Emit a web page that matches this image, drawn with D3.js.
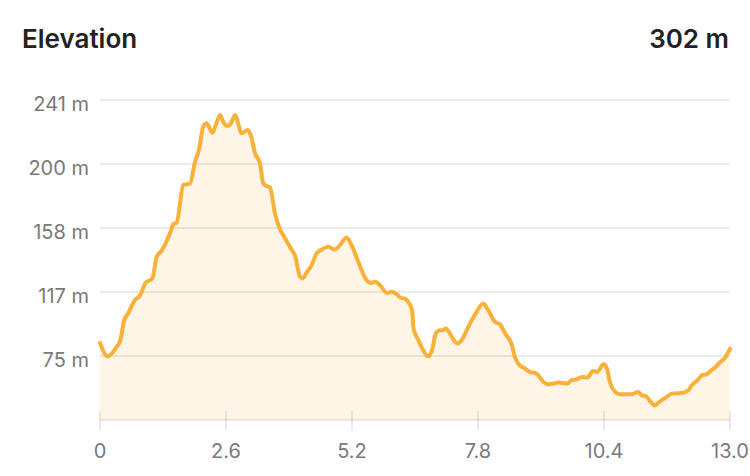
<!DOCTYPE html>
<html>
<head>
<meta charset="utf-8">
<script src="https://cdn.jsdelivr.net/npm/d3@7"></script>
<style>
  html, body { margin: 0; padding: 0; background: #fff; }
  svg { display: block; font-family: Inter, "Noto Sans", sans-serif; }
</style>
</head>
<body>
<svg id="chart" width="750" height="476"></svg>
<script>
const title = "Elevation";
const totalLabel = "302 m";

const distanceKm = [0.00,0.16,0.35,0.41,0.50,0.58,0.72,0.83,0.94,1.08,1.17,1.27,1.48,1.51,1.58,1.72,1.86,1.96,2.04,2.13,2.20,2.32,2.39,2.48,2.54,2.64,2.70,2.79,2.85,2.92,3.05,3.12,3.20,3.30,3.37,3.44,3.51,3.61,3.68,3.80,3.96,4.02,4.13,4.18,4.27,4.35,4.47,4.58,4.71,4.84,4.95,5.09,5.19,5.33,5.50,5.59,5.68,5.78,5.92,6.02,6.12,6.21,6.29,6.36,6.44,6.47,6.57,6.67,6.77,6.85,6.93,7.02,7.08,7.13,7.22,7.31,7.38,7.46,7.60,7.77,7.91,8.01,8.15,8.25,8.36,8.50,8.56,8.68,8.77,8.87,8.98,9.04,9.15,9.25,9.35,9.46,9.56,9.64,9.73,9.84,9.94,10.06,10.17,10.26,10.39,10.46,10.52,10.63,10.72,10.80,10.97,11.11,11.18,11.27,11.35,11.45,11.56,11.66,11.80,12.00,12.14,12.21,12.33,12.42,12.52,12.62,12.69,12.78,12.90,13.00];

const elevationM = [83.5,74.8,81.3,84.1,98.2,102.6,111.2,114.4,122.4,125.3,139.3,143.2,157.7,160.5,161.4,185.8,186.9,200.9,208.5,223.7,225.9,219.8,224.8,231.3,226.9,224.1,225.9,231.3,225.9,219.4,221.5,217.2,206.4,199.9,186.9,185.2,184.3,167.5,159.9,152.3,143.6,140.4,126.3,125.3,129.5,132.8,141.5,144.1,145.8,144.1,146.9,151.9,146.9,136.0,124.2,122.4,123.1,120.9,115.9,116.6,115.1,112.7,112.3,110.1,104.7,92.8,85.2,78.7,74.8,78.7,89.6,91.7,91.7,92.8,89.6,84.8,83.1,85.2,93.9,103.6,109.0,104.7,97.1,95.6,89.6,82.0,74.4,68.4,66.9,64.7,64.0,62.5,58.2,56.7,57.1,57.8,57.5,57.1,59.3,59.9,61.4,61.0,65.3,64.7,69.6,66.9,58.2,51.7,50.2,50.2,50.2,51.7,49.5,48.9,45.8,43.0,45.8,47.8,50.6,51.0,52.8,56.0,59.3,62.5,63.2,65.8,67.5,70.5,74.0,79.8];

const yDomain = [33.5, 241];
const yTickValues = [33.5, 75.0, 116.5, 158.0, 199.5, 241.0];
const yTickLabels = ["", "75 m", "117 m", "158 m", "200 m", "241 m"];
const xDomain = [0, 13];
const xTickValues = [0, 2.6, 5.2, 7.8, 10.4, 13.0];
const xTickLabels = ["0", "2.6", "5.2", "7.8", "10.4", "13.0"];

const data = distanceKm.map((d, i) => ({ x: d, y: elevationM[i] }));

const svg = d3.select("#chart");
const x = d3.scaleLinear().domain(xDomain).range([100, 730]);
const y = d3.scaleLinear().domain(yDomain).range([420, 100]);

// title
svg.append("text").attr("x", 22).attr("y", 48)
  .attr("font-size", 26).attr("font-weight", 600).attr("fill", "#222")
  .text(title);
svg.append("text").attr("x", 729).attr("y", 48).attr("text-anchor", "end")
  .attr("font-size", 26).attr("font-weight", 600).attr("fill", "#222")
  .text(totalLabel);

// area
const area = d3.area().x(d => x(d.x)).y0(y(yDomain[0])).y1(d => y(d.y)).curve(d3.curveMonotoneX);
svg.append("path").datum(data).attr("d", area).attr("fill", "#fef5e7");

// grid
const grid = svg.append("g");
grid.selectAll("line.h").data(yTickValues).join("line")
  .attr("x1", x(xDomain[0])).attr("x2", x(xDomain[1]))
  .attr("y1", d => y(d)).attr("y2", d => y(d))
  .attr("stroke", "rgba(0,0,0,0.08)").attr("stroke-width", 2);

grid.selectAll("line.v").data(xTickValues).join("line")
  .attr("x1", d => x(d)).attr("x2", d => x(d))
  .attr("y1", 411).attr("y2", 430)
  .attr("stroke", "rgba(0,0,0,0.08)").attr("stroke-width", 2);

// y labels
svg.append("g").selectAll("text").data(yTickValues).join("text")
  .attr("x", 89).attr("y", d => y(d) + 10.5)
  .attr("text-anchor", "end").attr("font-size", 20).attr("fill", "#7a7a7a")
  .text((d, i) => yTickLabels[i]);

// x labels
svg.append("g").selectAll("text").data(xTickValues).join("text")
  .attr("x", d => x(d)).attr("y", 458)
  .attr("text-anchor", "middle").attr("font-size", 20).attr("fill", "#7a7a7a")
  .text((d, i) => xTickLabels[i]);

// line
const line = d3.line().x(d => x(d.x)).y(d => y(d.y)).curve(d3.curveMonotoneX);
svg.append("path").datum(data).attr("d", line)
  .attr("fill", "none").attr("stroke", "#f9b13a").attr("stroke-width", 4)
  .attr("stroke-linejoin", "round").attr("stroke-linecap", "round");
</script>
</body>
</html>
